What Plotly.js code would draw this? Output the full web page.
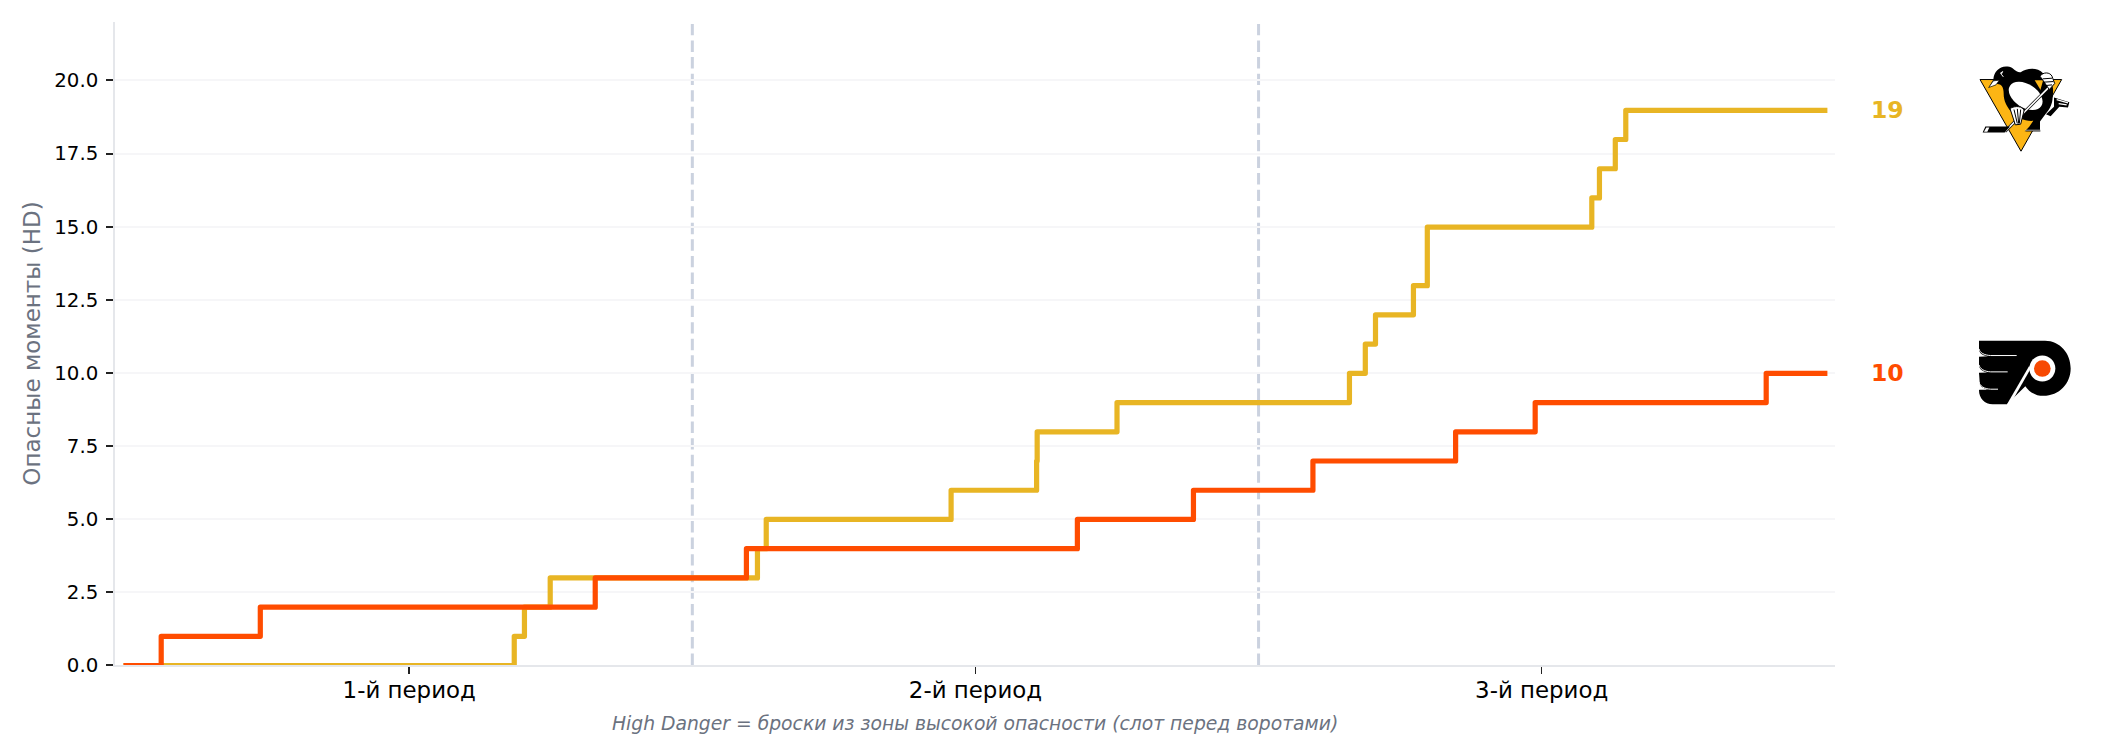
<!DOCTYPE html>
<html><head><meta charset="utf-8">
<script src="https://cdn.plot.ly/plotly-3.0.1.min.js"></script>
<style>html,body{margin:0;padding:0;background:#fff}#c{width:2107px;height:756px}
.scatterlayer .js-line{stroke-linecap:square;stroke-linejoin:round;transform:translateY(.6px)}</style>
</head><body><div id="c"></div>
<script>
const periodTicks = [10, 30, 50];
const periodLabels = ['1-й период', '2-й период', '3-й период'];
const periodBreaks = [20, 40];
const penguinsTimes = [0, 13.71, 14.07, 14.98, 22.30, 22.61, 29.14, 32.16, 32.18, 35.00, 43.21, 43.77, 44.13, 45.47, 45.96, 51.77, 52.04, 52.60, 52.97, 60];
const penguinsCounts = [0, 1, 2, 3, 4, 5, 6, 7, 8, 9, 10, 11, 12, 13, 15, 16, 17, 18, 19, 19];
const flyersTimes = [0, 1.24, 4.74, 16.57, 21.91, 33.60, 37.70, 41.92, 46.96, 49.77, 57.93, 60];
const flyersCounts = [0, 1, 2, 3, 4, 5, 6, 7, 8, 9, 10, 10];
const penguinsColor = '#E8B524';
const flyersColor = '#FF4C00';
const FONT = '"DejaVu Sans", sans-serif';

const penguinsLogo = `<svg xmlns="http://www.w3.org/2000/svg" viewBox="0 0 390 330" width="390" height="330">
<path d="M60,88 H305 L183,303 Z" fill="#FCB514" stroke="#000" stroke-width="3" stroke-linejoin="round"/>
<path d="M86,112 L100,88 C102,62 122,44 148,50 C162,54 168,68 182,66 C200,54 232,50 250,70 C262,76 272,92 276,118 C282,150 274,172 256,192 L240,214 L240,243 H194 L206,232 L220,212 C172,216 130,172 131,130 C131,108 122,100 108,102 C100,104 92,108 86,112 Z" fill="#000"/>
<path d="M224,90 H262 L264,156 Z" fill="#FCB514"/>
<path d="M250,88 C262,74 274,84 278,110 C282,128 276,150 268,170 L240,205 L220,195 Z" fill="#000"/>
<ellipse cx="197" cy="137" rx="56" ry="35" transform="rotate(33 197 137)" fill="#fff"/>
<path d="M258,192 L282,170 L282,142 L328,156 L324,172 L298,170 L272,198 Z" fill="#000"/>
<path d="M290,148 L324,158 M296,160 L320,164" stroke="#fff" stroke-width="4" fill="none"/>
<path d="M135,244 L270,108" stroke="#000" stroke-width="9" fill="none"/>
<path d="M135,244 L270,108" stroke="#fff" stroke-width="5" fill="none"/>
<path d="M68,247 L76,229 H136 L150,229 L134,247 Z" fill="#000"/>
<path d="M72,245 L79,232 H88 L82,245 Z" fill="#fff"/>
<path d="M150,175 C165,165 190,168 192,182 L182,222 L166,224 Z" fill="#fff" stroke="#000" stroke-width="3"/>
<path d="M162,178 L172,220 M172,176 L176,220 M182,178 L178,220" stroke="#000" stroke-width="3"/>
<path d="M240,78 C250,64 270,66 276,78 L284,100 L268,118 Z" fill="#fff" stroke="#000" stroke-width="3"/>
<path d="M248,86 L276,84 M250,96 L280,94 M258,106 L276,104" stroke="#000" stroke-width="3"/>
<path d="M120,70 L128,64 L124,72 L130,80" stroke="#fff" stroke-width="3" fill="none"/>
<path d="M86,112 L100,92 L118,90 L108,104 Z" fill="#fff" stroke="#000" stroke-width="2"/>
<path d="M198,243 L206,232 H238 L242,243 Z" fill="#000"/>
<path d="M196,240 H244" stroke="#fff" stroke-width="2"/>
</svg>`;

const flyersLogo = `<svg xmlns="http://www.w3.org/2000/svg" viewBox="0 0 390 240" width="390" height="240">
<path d="M57,32 H255 C300,32 332,70 332,115 C332,160 298,197 250,197 C228,197 208,186 196,168 L141,222 H98 C74,222 57,204 57,180 C62,174 57,130 57,130 C57,126 57,82 57,82 Z" fill="#000"/>
<path d="M57,56 C60,68 72,75 92,76 H170 M57,104 C60,116 72,124 92,125 H143 M57,155 C60,168 72,176 92,177 H114" fill="none" stroke="#fff" stroke-width="3"/>
<path d="M57,60 C60,70 68,76 84,78 L57,80 Z M57,108 C60,118 68,124 84,127 L57,128 Z M57,158 C60,168 68,175 84,179 L57,179 Z" fill="#fff"/>
<ellipse cx="247" cy="115" rx="39" ry="39" fill="#fff"/>
<path d="M207,108 L214,112 L151,222 H141 Z" fill="#fff"/>
<circle cx="247" cy="115" r="25" fill="#F74902"/>
</svg>`;
const uri = s => 'data:image/svg+xml;charset=utf-8,' + encodeURIComponent(s);

const L = 115, T = 21.8, R = 1835, B = 664.8, W = 2107, H = 756;
const px = v => (v - L) / (R - L);

const traces = [
  {x: penguinsTimes, y: penguinsCounts, mode: 'lines', name: 'PIT', line: {shape: 'hv', color: penguinsColor, width: 5.2}, showlegend: false, hoverinfo: 'skip'},
  {x: flyersTimes, y: flyersCounts, mode: 'lines', name: 'PHI', line: {shape: 'hv', color: flyersColor, width: 5.2}, showlegend: false, hoverinfo: 'skip'}
];

const layout = {
  width: W, height: H,
  paper_bgcolor: '#fff', plot_bgcolor: '#fff',
  font: {family: FONT, color: '#000'},
  margin: {l: L, r: W - R, t: T, b: H - B, pad: 0},
  showlegend: false,
  xaxis: {
    range: [-0.392, 60.36], tickmode: 'array', tickvals: periodTicks, ticktext: periodLabels,
    tickfont: {family: FONT, size: 22.9, color: '#000'}, ticks: 'outside', ticklen: 6.7, tickwidth: 1.6, tickcolor: '#222',
    showgrid: false, zeroline: false, showline: true, linecolor: '#e5e7eb', linewidth: 2, ticklabelstandoff: -3, fixedrange: true
  },
  yaxis: {
    range: [0, 22], tickmode: 'linear', tick0: 0, dtick: 2.5, tickformat: '.1f',
    tickfont: {family: FONT, size: 19.8, color: '#000'}, ticks: 'outside', ticklen: 6.7, tickwidth: 2, tickcolor: '#222',
    showgrid: true, gridcolor: '#f6f6f8', gridwidth: 2, zeroline: false, showline: true, linecolor: '#e5e7eb', linewidth: 2,
    ticklabelstandoff: 4,
    title: {text: 'Опасные моменты (HD)', font: {family: FONT, size: 23, color: '#6b7280'}, standoff: 7}, fixedrange: true
  },
  shapes: periodBreaks.map(b => ({type: 'line', layer: 'below', xref: 'x', yref: 'paper', x0: b, x1: b, y0: 0, y1: 1,
    line: {color: '#cbd2df', width: 3, dash: '11.4px,5.17px'}})),
  annotations: [
    {xref: 'paper', yref: 'y', x: px(1869), y: penguinsCounts[penguinsCounts.length - 1], text: String(penguinsCounts[penguinsCounts.length - 1]), xanchor: 'left', yanchor: 'middle', showarrow: false, font: {family: FONT, size: 23.5, color: penguinsColor, weight: 700}},
    {xref: 'paper', yref: 'y', x: px(1869), y: flyersCounts[flyersCounts.length - 1], text: String(flyersCounts[flyersCounts.length - 1]), xanchor: 'left', yanchor: 'middle', showarrow: false, font: {family: FONT, size: 23.5, color: flyersColor, weight: 700}},
    {xref: 'paper', yref: 'paper', x: 0.5, y: (B - 723) / (B - T), text: 'High Danger = броски из зоны высокой опасности (слот перед воротами)', xanchor: 'center', yanchor: 'middle', showarrow: false, font: {family: FONT, size: 18.75, color: '#6b7280', style: 'italic'}}
  ],
  images: [
    {source: uri(penguinsLogo), xref: 'paper', yref: 'paper', x: px(1960), y: (B - 50) / (B - T), sizex: 130 / (R - L), sizey: 110 / (B - T), xanchor: 'left', yanchor: 'top', sizing: 'stretch', layer: 'above'},
    {source: uri(flyersLogo), xref: 'paper', yref: 'paper', x: px(1960), y: (B - 330) / (B - T), sizex: 130 / (R - L), sizey: 80 / (B - T), xanchor: 'left', yanchor: 'top', sizing: 'stretch', layer: 'above'}
  ]
};
Plotly.newPlot('c', traces, layout, {staticPlot: true, displayModeBar: false});
</script></body></html>
